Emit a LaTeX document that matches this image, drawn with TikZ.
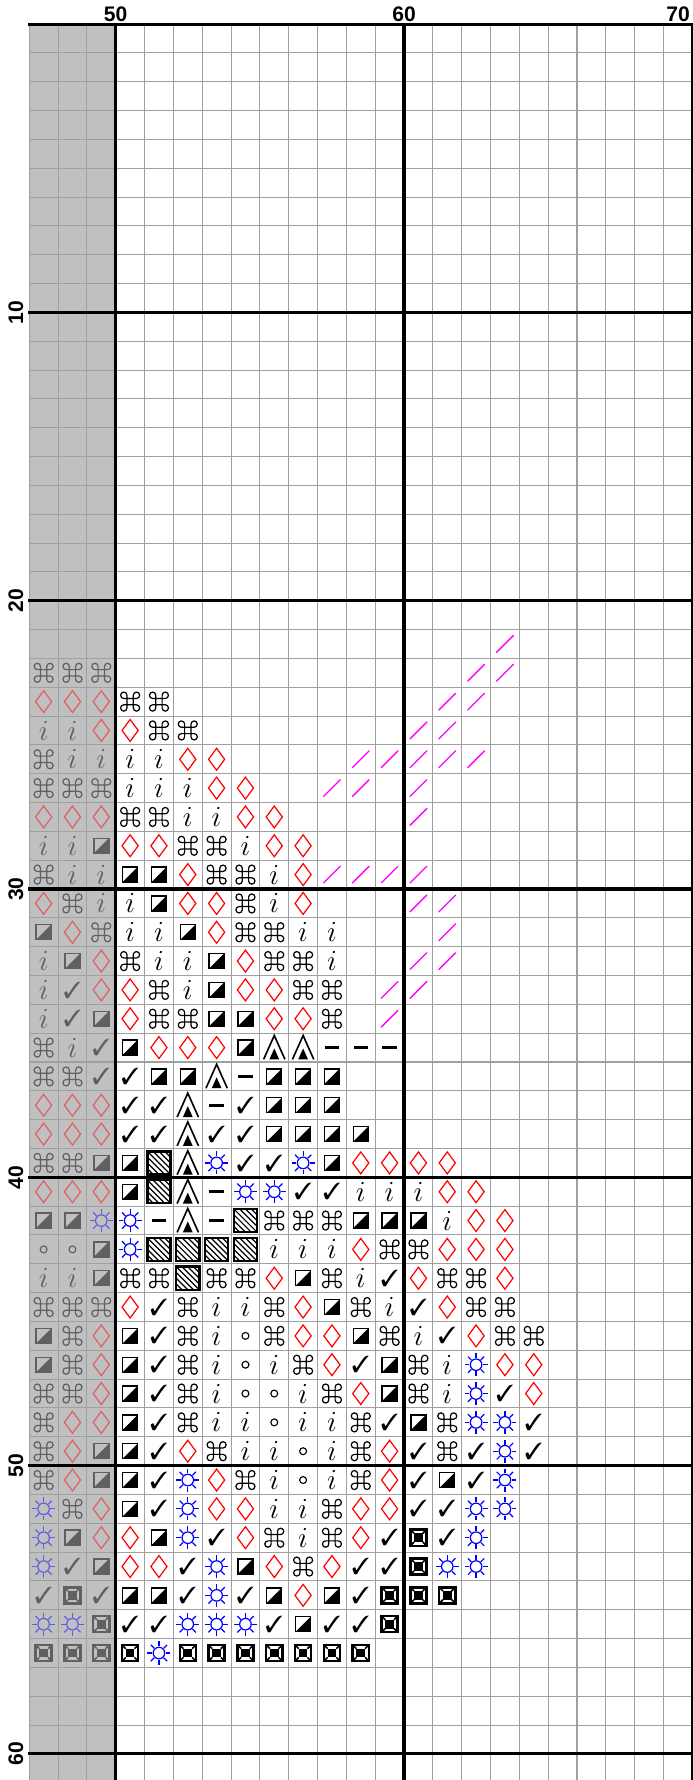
\documentclass[tikz,border=0pt]{standalone}
\usepackage{amssymb}
\usepackage{pifont}
\usepackage{fontspec}
\usepackage{tikz}
\newfontfamily\chartfont{Liberation Sans}
\definecolor{ChartShade}{HTML}{C0C0C0}
\definecolor{ChartGrid}{HTML}{A0A0A0}
\definecolor{ChartStitch}{HTML}{FF00FF}
\colorlet{ink}{black}
\colorlet{inkred}{red}
\colorlet{inkblue}{blue}

\begin{document}
\begin{tikzpicture}[x=0.5cm,y=0.5cm,
        gridline/.style={ChartGrid,line width=0.5pt},
        major/.style={black,line width=1.5pt,line cap=rect},
        backstitch/.style={ChartStitch,line width=0.65pt,line cap=round},
        num/.style={font=\chartfont\bfseries\fontsize{10.4}{12}\selectfont,inner sep=0pt},
        faded/.style={/utils/exec={\colorlet{ink}{black!50!ChartShade}%
            \colorlet{inkred}{red!50!ChartShade}\colorlet{inkblue}{blue!50!ChartShade}}},
        syme/.pic={},
        symc/.pic={\draw[ink,line width=0.6pt]
            (0.11,-0.22)--(0.11,0.22) (-0.11,-0.22)--(-0.11,0.22)
            (-0.22,0.11)--(0.22,0.11) (-0.22,-0.11)--(0.22,-0.11)
            (0.11,0.22) arc[start angle=180,end angle=-90,radius=0.11]
            (-0.11,0.22) arc[start angle=0,end angle=270,radius=0.11]
            (-0.11,-0.22) arc[start angle=0,end angle=-270,radius=0.11]
            (0.11,-0.22) arc[start angle=180,end angle=450,radius=0.11];},
        symd/.pic={\draw[inkred,line width=0.6pt]
            (0,0.38)--(0.28,0)--(0,-0.38)--(-0.28,0)--cycle;},
        symi/.pic={\node[text=ink,inner sep=0pt,font=\fontsize{14.4}{14.4}\selectfont] (-t) {$i$};},
        symv/.pic={\node[text=ink,inner sep=0pt,font=\fontsize{11.5}{11.5}\selectfont] (-t) {\ding{51}};},
        symh/.pic={\fill[ink] (-0.26,-0.26)--(0.26,-0.26)--(0.26,0.26)--cycle;
            \draw[ink,line width=0.7pt] (-0.26,-0.26) rectangle (0.26,0.26);},
        syma/.pic={\draw[ink,line width=0.8pt] (-0.37,-0.41)--(0,0.42)--(0.37,-0.41);
            \fill[ink] (-0.17,-0.41)--(0,-0.03)--(0.17,-0.41)--cycle;},
        symm/.pic={\fill[ink] (-0.25,-0.045) rectangle (0.25,0.045);},
        symx/.pic={\draw[ink,line width=1.2pt] (-0.4,-0.4) rectangle (0.4,0.4);
            \clip (-0.4,-0.4) rectangle (0.4,0.4);
            \foreach \t in {-3,...,3}
              \draw[ink,line width=0.6pt] ({0.2*\t-0.5},0.5) -- ({0.2*\t+0.5},-0.5);},
        syms/.pic={\draw[inkblue,line width=0.6pt] (0,0) circle[radius=0.2];
            \foreach \a in {0,45,...,315}
              \draw[inkblue,line width=0.6pt] (\a:0.23) -- (\a:0.4);},
        symo/.pic={\draw[ink,line width=0.55pt] (0,0) circle[radius=0.12];},
        symb/.pic={\draw[ink,line width=1.2pt] (-0.28,-0.28) rectangle (0.28,0.28);
            \fill[ink] (-0.15,-0.15) rectangle (0.15,0.15);
            \draw[ink,line width=0.8pt] (-0.28,-0.28)--(-0.15,-0.15) (0.28,-0.28)--(0.15,-0.15)
              (0.28,0.28)--(0.15,0.15) (-0.28,0.28)--(-0.15,0.15);}]
  \useasboundingbox (45.987,0.836) rectangle (70.024,-60.905);
  \fill[ChartShade] (47,0) rectangle (50,-60.905);
  \foreach \k in {47,...,69} \draw[gridline] (\k,0) -- (\k,-60.905);
  \foreach \r in {1,...,60} \draw[gridline] (47,-\r) -- (70,-\r);
  \foreach \r/\shade/\main in {
      23/{c,c,c}/{e},
      24/{d,d,d}/{c,c},
      25/{i,i,d}/{d,c,c},
      26/{c,i,i}/{i,i,d,d},
      27/{c,c,c}/{i,i,i,d,d},
      28/{d,d,d}/{c,c,i,i,d,d},
      29/{i,i,h}/{d,d,c,c,i,d,d},
      30/{c,i,i}/{h,h,d,c,c,i,d},
      31/{d,c,i}/{i,h,d,d,c,i,d},
      32/{h,d,c}/{i,i,h,d,c,c,i,i},
      33/{i,h,d}/{c,i,i,h,d,c,c,i},
      34/{i,v,d}/{d,c,i,h,d,d,c,c},
      35/{i,v,h}/{d,c,c,h,h,d,d,c},
      36/{c,i,v}/{h,d,d,d,h,a,a,m,m,m},
      37/{c,c,v}/{v,h,h,a,m,h,h,h},
      38/{d,d,d}/{v,v,a,m,v,h,h,h},
      39/{d,d,d}/{v,v,a,v,v,h,h,h,h},
      40/{c,c,h}/{h,x,a,s,v,v,s,h,d,d,d,d},
      41/{d,d,d}/{h,x,a,m,s,s,v,v,i,i,i,d,d},
      42/{h,h,s}/{s,m,a,m,x,c,c,c,h,h,h,i,d,d},
      43/{o,o,h}/{s,x,x,x,x,i,i,i,d,c,c,d,d,d},
      44/{i,i,h}/{c,c,x,c,c,d,h,c,i,v,d,c,c,d},
      45/{c,c,c}/{d,v,c,i,i,c,d,h,c,i,v,d,c,c},
      46/{h,c,d}/{h,v,c,i,o,c,d,d,h,c,i,v,d,c,c},
      47/{h,c,d}/{h,v,c,i,o,i,c,d,v,h,c,i,s,d,d},
      48/{c,c,d}/{h,v,c,i,o,o,i,c,d,h,c,i,s,v,d},
      49/{c,d,d}/{h,v,c,i,i,o,i,i,c,v,h,c,s,s,v},
      50/{c,d,h}/{h,v,d,c,i,i,o,i,c,d,v,c,v,s,v},
      51/{c,d,h}/{h,v,s,d,c,i,o,i,c,d,v,h,v,s},
      52/{s,c,d}/{h,v,s,d,d,i,i,c,d,d,v,v,s,s},
      53/{s,h,d}/{d,h,s,v,d,c,i,c,d,v,b,v,s},
      54/{s,v,h}/{d,d,v,s,h,d,c,d,v,v,b,s,s},
      55/{v,b,v}/{h,h,v,s,v,h,d,h,v,b,b,b},
      56/{s,s,b}/{v,v,s,s,s,v,h,v,v,b},
      57/{b,b,b}/{b,s,b,b,b,b,b,b,b}}{
    \begin{scope}[faded]
      \foreach \s [count=\k from 47] in \shade
        \pic (c\r-\k) at ({\k+0.5},{0.5-\r}) {sym\s};
    \end{scope}
    \foreach \s [count=\k from 50] in \main
      \pic (c\r-\k) at ({\k+0.5},{0.5-\r}) {sym\s};
  }
  \foreach \r/\cols in {22/{63},23/{62,63},24/{61,62},25/{60,61},26/{58,59,60,61,62},
      27/{57,58,60},28/{60},30/{57,58,59,60},31/{60,61},32/{61},33/{60,61},34/{59,60},35/{59}}
    \foreach \k in \cols
      \draw[backstitch] ({\k+0.21},{0.21-\r}) -- ({\k+0.79},{0.79-\r});
  \foreach \k in {50,60,70} \draw[major] (\k,0) -- (\k,-60.905);
  \foreach \r in {0,10,...,60} \draw[major] (47,-\r) -- (70,-\r);
  \foreach \n in {50,60} \node[num,anchor=south] (top\n) at (\n,0.07) {\n};
  \node[num,anchor=south east] (top70) at (69.93,0.07) {70};
  \foreach \n in {10,20,...,60} \node[num,rotate=90] (side\n) at (46.54,-\n) {\n};
\end{tikzpicture}
\end{document}
